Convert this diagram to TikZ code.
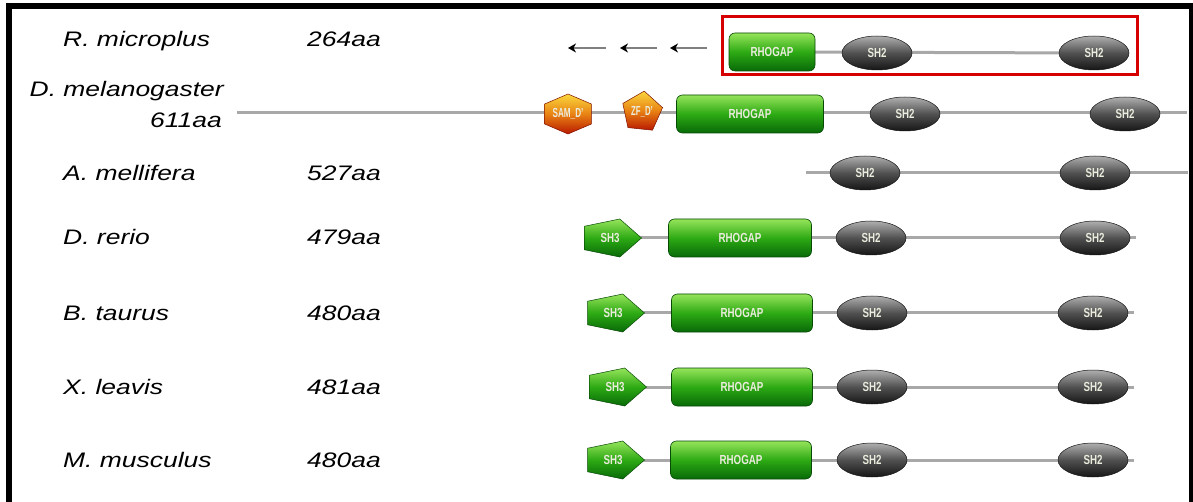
\documentclass[tikz,border=0pt]{standalone}
\usepackage{fontspec}
\setmainfont{Liberation Sans}
\usepackage{graphicx}
\usetikzlibrary{shapes.geometric,arrows.meta}
\pgfdeclarelayer{background}
\pgfsetlayers{background,main}

\definecolor{bbgray}{RGB}{168,168,168}
\definecolor{gtop}{RGB}{150,228,90}
\definecolor{gmid}{RGB}{45,170,20}
\definecolor{gbot}{RGB}{8,105,8}
\definecolor{stop}{RGB}{175,175,175}
\definecolor{smid}{RGB}{80,80,80}
\definecolor{sbot}{RGB}{22,22,22}
\definecolor{htop}{RGB}{250,215,60}
\definecolor{hmid}{RGB}{232,130,20}
\definecolor{hbot}{RGB}{185,25,0}
\definecolor{boxred}{RGB}{215,0,0}
\definecolor{dtext}{RGB}{236,236,222}

% widened italic labels, condensed domain labels
\newcommand{\wide}[1]{\scalebox{1.26}[1]{#1}}
\newcommand{\narrow}[1]{\scalebox{0.78}[1.05]{#1}}

% SH3 domain: a regular pentagon pointing right, stretched sideways
\newcommand{\shthree}[2]{%
  \begin{scope}[shift={(#2)}, xscale=1.575]
    \node[sh3] (#1) at (0,0) {\scalebox{0.635}[1]{\narrow{SH3}}};
  \end{scope}}

\tikzset{
  lbl/.style={font=\fontsize{21}{25}\selectfont\itshape, inner sep=0pt, anchor=base west},
  backbone/.style={draw=bbgray, line width=3pt},
  dom/.style={font=\fontsize{12.5}{14}\selectfont\bfseries, text=dtext, inner sep=0pt, outer sep=0pt},
  rhogap/.style={dom, rectangle, rounded corners=6pt, minimum width=#1, minimum height=38pt,
    top color=gtop, bottom color=gbot, middle color=gmid, draw=gbot!70!black, line width=0.6pt},
  sh2/.style={dom, ellipse, minimum width=70pt, minimum height=34pt,
    top color=stop, bottom color=sbot, middle color=smid, draw=sbot, line width=0.5pt},
  sh3/.style={dom, regular polygon, regular polygon sides=5, shape border rotate=-90, minimum size=40pt,
    top color=gtop, bottom color=gbot, middle color=gmid, draw=gbot!70!black, line width=0.5pt, transform shape},
  hexdom/.style={dom, regular polygon, regular polygon sides=6, shape border rotate=30, minimum size=40pt,
    top color=htop, bottom color=hbot, middle color=hmid, draw=hbot!70!black, line width=0.5pt, transform shape},
  pentdom/.style={dom, regular polygon, regular polygon sides=5, minimum size=42pt, shape border rotate=-6,
    top color=htop, bottom color=hbot, middle color=hmid, draw=hbot!70!black, line width=0.5pt},
  backarrow/.style={draw=gray, line width=1.3pt, {Stealth[length=8pt,width=9pt,inset=2.5pt,black]}-},
}

\begin{document}
\begin{tikzpicture}[x=1pt,y=1pt]
\useasboundingbox (0,0) rectangle (1193,-502);
\begin{pgfonlayer}{background}
  \fill[white] (0,0) rectangle (1193,-502);
\end{pgfonlayer}

% outer frame
\fill[black] (6,-3) rectangle (1193,-9);
\fill[black] (6,-3) rectangle (12,-502);
\fill[black] (1189,-3) rectangle (1193,-502);

% species and lengths
\node[lbl] (n1) at (63,-47) {\wide{R. microplus}};
\node[lbl] (l1) at (307,-47) {\wide{264aa}};
\node[lbl, anchor=base east] (n2) at (224,-97) {\wide{D. melanogaster}};
\node[lbl, anchor=base east] (l2) at (222,-128) {\wide{611aa}};
\node[lbl] (n3) at (63,-181) {\wide{A. mellifera}};
\node[lbl] (l3) at (307,-181) {\wide{527aa}};
\node[lbl] (n4) at (63,-245) {\wide{D. rerio}};
\node[lbl] (l4) at (307,-245) {\wide{479aa}};
\node[lbl] (n5) at (63,-320) {\wide{B. taurus}};
\node[lbl] (l5) at (307,-320) {\wide{480aa}};
\node[lbl] (n6) at (63,-394) {\wide{X. leavis}};
\node[lbl] (l6) at (307,-394) {\wide{481aa}};
\node[lbl] (n7) at (63,-467) {\wide{M. musculus}};
\node[lbl] (l7) at (307,-467) {\wide{480aa}};

% row 1: R. microplus (partial sequence)
\coordinate (a1s) at (568,-48); \coordinate (a1e) at (606,-48);
\coordinate (a2s) at (620,-48); \coordinate (a2e) at (657,-48);
\coordinate (a3s) at (670,-48); \coordinate (a3e) at (707,-48);
\draw[backarrow] (a1s) -- (a1e);
\draw[backarrow] (a2s) -- (a2e);
\draw[backarrow] (a3s) -- (a3e);
\node[rhogap=86pt] (r1g) at (772,-52) {\narrow{RHOGAP}};
\node[sh2] (r1a) at (877,-53) {\narrow{SH2}};
\node[sh2] (r1b) at (1094,-53) {\narrow{SH2}};
\draw[boxred, line width=3pt] (722,-17) rectangle (1137,-75);

% row 2: D. melanogaster
\coordinate (r2s) at (237,-113); \coordinate (r2e) at (1187,-113);
\begin{scope}[shift={(568,-114)}, xscale=1.35]
  \node[hexdom] (r2h) at (0,0) {\scalebox{0.62}[1]{\narrow{SAM\_D'}}};
\end{scope}
\node[pentdom] (r2p) at (642,-112) {\scalebox{0.8}[1]{\narrow{ZF\_D'}}};
\node[rhogap=147pt] (r2g) at (750,-114) {\narrow{RHOGAP}};
\node[sh2] (r2a) at (905,-114) {\narrow{SH2}};
\node[sh2] (r2b) at (1125,-114) {\narrow{SH2}};

% row 3: A. mellifera
\coordinate (r3s) at (806,-173); \coordinate (r3e) at (1188,-173);
\node[sh2] (r3a) at (865,-173) {\narrow{SH2}};
\node[sh2] (r3b) at (1095,-173) {\narrow{SH2}};

% rows 4-7: vertebrates
\shthree{r4s}{610,-238}
\node[rhogap=143pt] (r4g) at (740,-238) {\narrow{RHOGAP}};
\node[sh2] (r4a) at (871,-238) {\narrow{SH2}};
\node[sh2] (r4b) at (1095,-238) {\narrow{SH2}};
\coordinate (r4e) at (1136,-238);

\shthree{r5s}{613,-313}
\node[rhogap=141pt] (r5g) at (742,-313) {\narrow{RHOGAP}};
\node[sh2] (r5a) at (872,-313) {\narrow{SH2}};
\node[sh2] (r5b) at (1093,-313) {\narrow{SH2}};
\coordinate (r5e) at (1134,-313);

\shthree{r6s}{615,-387}
\node[rhogap=141pt] (r6g) at (742,-387) {\narrow{RHOGAP}};
\node[sh2] (r6a) at (872,-387) {\narrow{SH2}};
\node[sh2] (r6b) at (1093,-387) {\narrow{SH2}};
\coordinate (r6e) at (1134,-387);

\shthree{r7s}{613,-460}
\node[rhogap=141pt] (r7g) at (741,-460) {\narrow{RHOGAP}};
\node[sh2] (r7a) at (872,-460) {\narrow{SH2}};
\node[sh2] (r7b) at (1093,-460) {\narrow{SH2}};
\coordinate (r7e) at (1134,-460);

% protein backbones behind the domains
\begin{pgfonlayer}{background}
  \draw[backbone] (r1g.center) -- (r1b.center);
  \draw[backbone] (r2s) -- (r2e);
  \draw[backbone] (r3s) -- (r3e);
  \draw[backbone] (r4s.center) -- (r4e);
  \draw[backbone] (r5s.center) -- (r5e);
  \draw[backbone] (r6s.center) -- (r6e);
  \draw[backbone] (r7s.center) -- (r7e);
\end{pgfonlayer}
\end{tikzpicture}
\end{document}
